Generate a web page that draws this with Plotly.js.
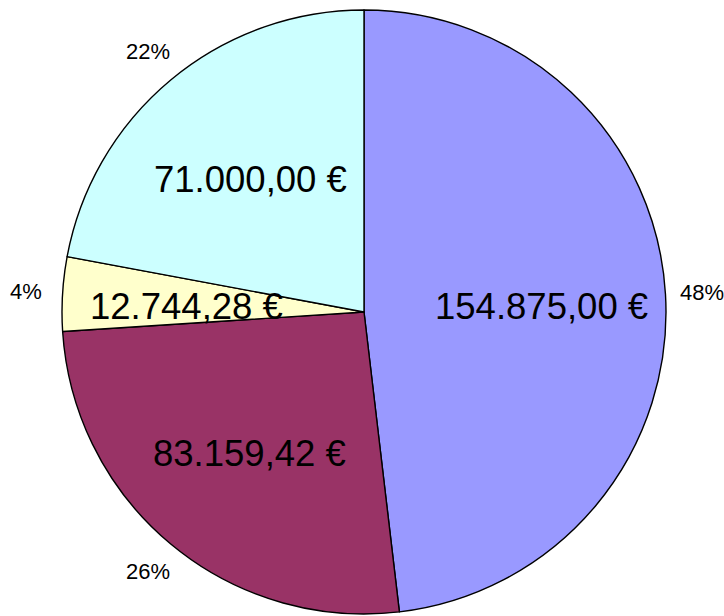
<!DOCTYPE html>
<html>
<head>
<meta charset="utf-8">
<script src="https://cdn.plot.ly/plotly-3.0.1.min.js"></script>
<style>html,body{margin:0;padding:0;background:#fff}#chart{width:724px;height:616px}</style>
</head>
<body>
<div id="chart"></div>
<script>
// Data
var categories = ["A", "B", "C", "D"];
var values = [154875.00, 83159.42, 12744.28, 71000.00];
var colors = ["#9999FF", "#993366", "#FFFFCC", "#CCFFFF"];

function fmtEuro(v) {
  var parts = v.toFixed(2).split(".");
  var intPart = parts[0].replace(/\B(?=(\d{3})+(?!\d))/g, ".");
  return intPart + "," + parts[1] + " \u20AC";
}

var W = 724, H = 616;
var margin = {l: 4, r: 0, t: 10, b: 2};
var pw = W - margin.l - margin.r, ph = H - margin.t - margin.b;
var R = Math.min(pw, ph) / 2;

var total = values.reduce(function (a, b) { return a + b; }, 0);
var annotations = [];
var cum = 0;
var FONT = "Liberation Sans, Arial, Helvetica, sans-serif";
var insideFrac = 0.59, outsideFrac = 1.12, insideDrop = 5; // label placement (px drop)
values.forEach(function (v, i) {
  var mid = (cum + v / 2) / total * 2 * Math.PI;
  cum += v;
  var s = Math.sin(mid), c = Math.cos(mid);
  annotations.push({
    xref: "paper", yref: "paper",
    x: 0.5 + insideFrac * s * R / pw,
    y: 0.5 + (insideFrac * c * R - insideDrop) / ph,
    text: fmtEuro(v), showarrow: false,
    xanchor: "center", yanchor: "middle",
    font: {family: FONT, size: 36.5, color: "#000"}
  });
  annotations.push({
    xref: "paper", yref: "paper",
    x: 0.5 + outsideFrac * s * R / pw, y: 0.5 + outsideFrac * c * R / ph,
    text: Math.round(v / total * 100) + "%", showarrow: false,
    xanchor: "center", yanchor: "middle",
    font: {family: FONT, size: 22, color: "#000"}
  });
});

var trace = {
  type: "pie",
  labels: categories,
  values: values,
  sort: false,
  direction: "clockwise",
  rotation: 0,
  textinfo: "none",
  hoverinfo: "none",
  marker: {colors: colors, line: {color: "#000", width: 1.4}},
  domain: {x: [0, 1], y: [0, 1]}
};

var layout = {
  width: W, height: H,
  margin: margin,
  showlegend: false,
  paper_bgcolor: "#fff",
  annotations: annotations
};

Plotly.newPlot("chart", [trace], layout, {displayModeBar: false, staticPlot: true});
</script>
</body>
</html>
